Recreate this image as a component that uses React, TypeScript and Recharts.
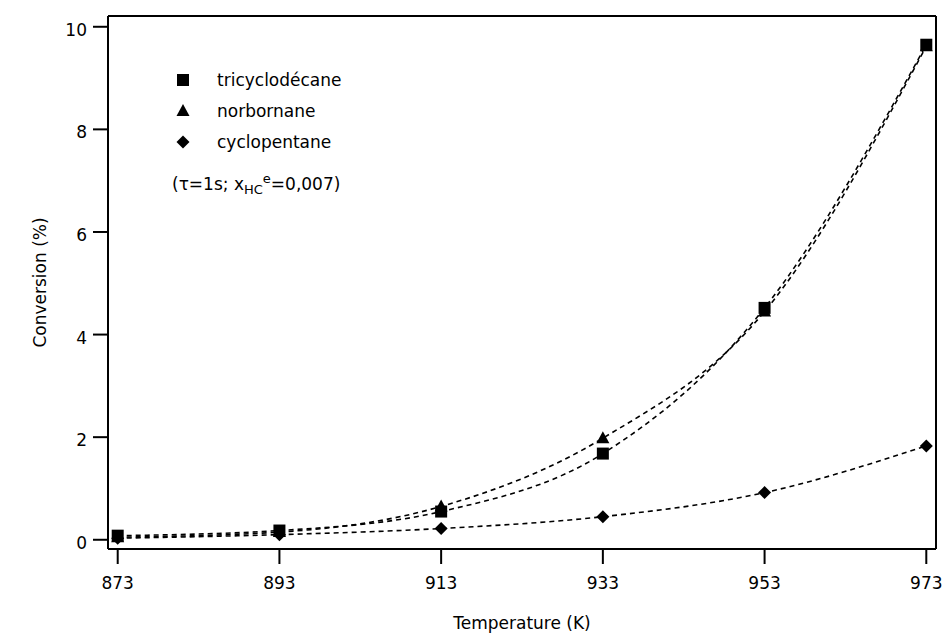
import React from "react";
import {
  LineChart, Line, XAxis, YAxis, Label, ReferenceLine
} from "recharts";

// temperatures (K)
const temperatures = [873, 893, 913, 933, 953, 973];
const xTicks = [873, 893, 913, 933, 953, 973];
const yTicks = [0, 2, 4, 6, 8, 10];

// conversion (%)
const tricyclodecane = [0.08, 0.18, 0.55, 1.68, 4.52, 9.65];
const norbornane = [0.05, 0.15, 0.65, 1.98, 4.45, 9.62];
const cyclopentane = [0.03, 0.1, 0.22, 0.45, 0.92, 1.83];

const X_DOMAIN: [number, number] = [871.8, 974.2];
const Y_DOMAIN: [number, number] = [-0.18, 10.21];

const FONT = "'Comic Sans MS', 'DejaVu Sans', sans-serif";

const data = temperatures.map((t, i) => ({
  t,
  tri: tricyclodecane[i],
  nor: norbornane[i],
  cyc: cyclopentane[i],
}));

type Shape = "square" | "triangle" | "diamond";

function Marker({ cx, cy, shape }: { cx: number; cy: number; shape: Shape }) {
  if (shape === "square") {
    return <rect x={cx - 6} y={cy - 6} width={12} height={12} fill="#000" />;
  }
  if (shape === "triangle") {
    return (
      <polygon
        points={`${cx},${cy - 7} ${cx + 6.5},${cy + 5} ${cx - 6.5},${cy + 5}`}
        fill="#000"
      />
    );
  }
  return (
    <polygon
      points={`${cx},${cy - 6.5} ${cx + 6.5},${cy} ${cx},${cy + 6.5} ${cx - 6.5},${cy}`}
      fill="#000"
    />
  );
}

const series: Array<{ key: string; name: string; shape: Shape }> = [
  { key: "tri", name: "tricyclodécane", shape: "square" },
  { key: "nor", name: "norbornane", shape: "triangle" },
  { key: "cyc", name: "cyclopentane", shape: "diamond" },
];

// legend box drawn on top of the plot (upper left)
function LegendBox() {
  return (
    <div
      style={{
        position: "absolute", left: 170, top: 64,
        fontFamily: FONT, fontSize: 17, color: "#000", lineHeight: "20px",
      }}
    >
      {series.map((s) => (
        <div key={s.key} style={{ display: "flex", alignItems: "center", height: 31 }}>
          <svg width={47} height={20} style={{ flex: "none" }}>
            <Marker cx={13} cy={10} shape={s.shape} />
          </svg>
          <span>{s.name}</span>
        </div>
      ))}
      <div style={{ marginTop: 12, marginLeft: 2 }}>
        (τ=1s; x<sub style={{ fontSize: 13 }}>HC</sub>
        <sup style={{ fontSize: 13 }}>e</sup>=0,007)
      </div>
    </div>
  );
}

export default function App() {
  return (
    <div style={{ position: "absolute", left: 0, top: 0, width: 946, height: 633, background: "#fff" }}>
      <LineChart
        width={946}
        height={633}
        data={data}
        margin={{ top: 16, right: 10, left: 0, bottom: 0 }}
      >
        <XAxis
          dataKey="t"
          type="number"
          domain={X_DOMAIN}
          ticks={xTicks}
          allowDataOverflow
          height={84}
          stroke="#000"
          strokeWidth={2}
          tickSize={15}
          tickMargin={13}
          tick={{ fill: "#000", fontSize: 17, fontFamily: FONT }}
        >
          <Label
            value="Temperature (K)"
            position="insideBottom"
            offset={4}
            style={{ fill: "#000", fontSize: 17, fontFamily: FONT }}
          />
        </XAxis>
        <YAxis
          type="number"
          domain={Y_DOMAIN}
          ticks={yTicks}
          allowDataOverflow
          width={108}
          stroke="#000"
          strokeWidth={2}
          tickSize={15}
          tickMargin={6}
          tick={{ fill: "#000", fontSize: 17, fontFamily: FONT, dy: 3 }}
        >
          <Label
            value="Conversion (%)"
            angle={-90}
            position="insideLeft"
            offset={40}
            style={{ fill: "#000", fontSize: 17, fontFamily: FONT, textAnchor: "middle" }}
          />
        </YAxis>
        {/* close the frame: top and right edges */}
        <ReferenceLine y={Y_DOMAIN[1]} stroke="#000" strokeWidth={2} />
        <ReferenceLine x={X_DOMAIN[1]} stroke="#000" strokeWidth={2} />
        {series.map((s) => (
          <Line
            key={s.key}
            dataKey={s.key}
            name={s.name}
            type="monotone"
            stroke="#000"
            strokeWidth={1.6}
            strokeDasharray="5 4"
            isAnimationActive={false}
            dot={(p: any) => (
              <Marker key={`${s.key}-${p.index}`} cx={p.cx} cy={p.cy} shape={s.shape} />
            )}
            activeDot={false}
          />
        ))}
      </LineChart>
      <LegendBox />
    </div>
  );
}
